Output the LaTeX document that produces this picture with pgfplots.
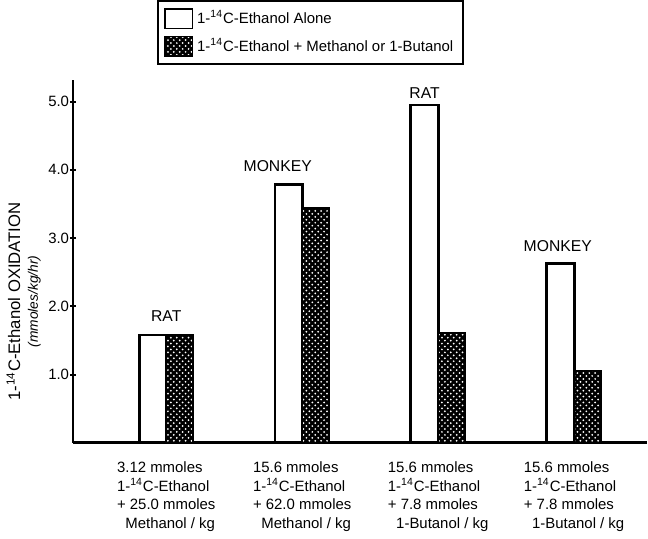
\documentclass[border=0pt]{standalone}
\usepackage{pgfplots}
\pgfplotsset{compat=1.18}
\usetikzlibrary{patterns}
\usepackage{fontspec}
\setmainfont{Liberation Sans}
\newcommand{\Cf}{1-\textsuperscript{14}C-Ethanol}

\begin{document}
\begin{tikzpicture}
\begin{axis}[
    scale only axis,
    width=292pt, height=184.5pt,
    xmin=-0.686, xmax=3.533,
    ymin=0, ymax=5.31,
    axis x line=bottom, axis y line=left,
    axis line style={-, line width=1.5pt},
    ytick={1,2,3,4,5},
    yticklabel style={xshift=3pt, /pgf/number format/fixed, /pgf/number format/fixed zerofill,
        /pgf/number format/precision=1, /pgf/number format/assume math mode=true},
    ticklabel style={font=\fontsize{7.6}{9.5}\selectfont},
    tick style={black, line width=1pt},
    major tick length=3pt,
    xtick={0,1,2,3},
    x tick style={draw=none},
    xticklabel style={align=left, yshift=-3pt},
    xticklabels={
        {3.12 mmoles\\\Cf\\+ 25.0 mmoles\\\ \ Methanol / kg},
        {15.6 mmoles\\\Cf\\+ 62.0 mmoles\\\ \ Methanol / kg},
        {15.6 mmoles\\\Cf\\+ 7.8 mmoles\\\ \ 1-Butanol / kg},
        {15.6 mmoles\\\Cf\\+ 7.8 mmoles\\\ \ 1-Butanol / kg}},
    ylabel={\Cf{} OXIDATION\\{\itshape\fontsize{7}{8}\selectfont(mmoles/kg/hr)}},
    ylabel style={align=center, font=\fontsize{8.5}{9}\selectfont, at={(ticklabel cs:0.39)}, yshift=-3pt},
    ybar, bar width=0.2,
    legend style={at={(0.147,1.222)}, anchor=north west, draw=black, line width=1pt,
        font=\fontsize{7.6}{14}\selectfont, cells={anchor=west}, inner sep=3pt,
        row sep=2pt},
    legend image code/.code={\draw[#1, line width=0.8pt] (0pt,-5pt) rectangle (14pt,5pt);},
    clip=false,
]
\addplot[bar shift=-0.1, draw=black, fill=white, line width=1.5pt] coordinates {
    (0,1.58) (1,3.78) (2,4.95) (3,2.63)
};
\addplot[bar shift=0.1, draw=black, fill=black, line width=1pt,
    postaction={pattern=crosshatch dots, pattern color=white}] coordinates {
    (0,1.58) (1,3.44) (2,1.61) (3,1.06)
};
\legend{\Cf{} Alone, \Cf{} + Methanol or 1-Butanol}
\node[font=\fontsize{8}{9}\selectfont] at (axis cs:0,1.86) {RAT};
\node[font=\fontsize{8}{9}\selectfont] at (axis cs:0.82,4.05) {MONKEY};
\node[font=\fontsize{8}{9}\selectfont] at (axis cs:1.9,5.13) {RAT};
\node[font=\fontsize{8}{9}\selectfont] at (axis cs:2.88,2.88) {MONKEY};
\end{axis}
\end{tikzpicture}
\end{document}
